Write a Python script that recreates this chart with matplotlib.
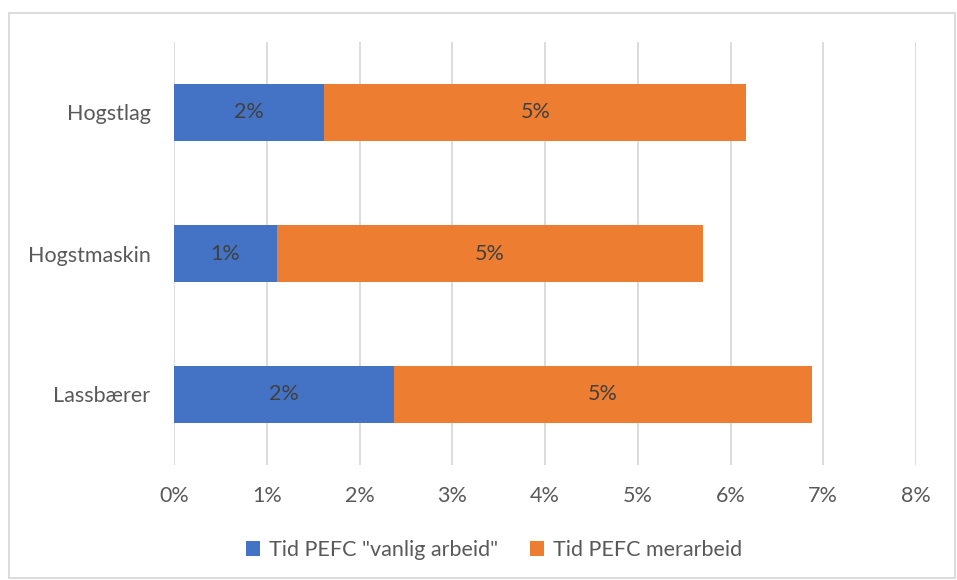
import matplotlib
matplotlib.use("Agg")
import matplotlib.pyplot as plt
from matplotlib.patches import Rectangle
from matplotlib.ticker import FuncFormatter

categories = ["Lassbærer", "Hogstmaskin", "Hogstlag"]
vanlig = [2.37, 1.11, 1.62]       # Tid PEFC "vanlig arbeid", %
merarbeid = [4.51, 4.59, 4.55]    # Tid PEFC merarbeid, %
series_names = ['Tid PEFC "vanlig arbeid"', "Tid PEFC merarbeid"]
colors = ["#4472C4", "#ED7D31"]

plt.rcParams["font.family"] = ["Lato", "DejaVu Sans"]
FS = 15.5

W, H = 957, 580
fig = plt.figure(figsize=(W / 100, H / 100), dpi=100)
ax = fig.add_axes([174 / W, 1 - 465 / H, (916 - 174) / W, (465 - 42) / H])

y = range(len(categories))
b1 = ax.barh(y, vanlig, height=0.4, color=colors[0], label=series_names[0], zorder=3)
b2 = ax.barh(y, merarbeid, left=vanlig, height=0.4, color=colors[1], label=series_names[1], zorder=3)

for bars, vals in ((b1, vanlig), (b2, merarbeid)):
    for bar, v in zip(bars, vals):
        ax.text(bar.get_x() + bar.get_width() / 2, bar.get_y() + bar.get_height() / 2,
                f"{v:.0f}%", ha="center", va="center", fontsize=FS, color="#404040", zorder=4)

ax.set_xlim(0, 8)
ax.set_ylim(-0.5, 2.5)
ax.set_xticks(range(0, 9))
ax.xaxis.set_major_formatter(FuncFormatter(lambda v, p: f"{v:.0f}%"))
ax.set_yticks(list(y))
ax.set_yticklabels(categories)
ax.grid(axis="x", color="#D9D9D9", linewidth=1.3, zorder=0)
for s in ax.spines.values():
    s.set_visible(False)
ax.tick_params(axis="both", length=0, labelsize=FS, colors="#595959")
ax.tick_params(axis="x", pad=15)
ax.tick_params(axis="y", pad=17)

leg = fig.legend(handles=[b1, b2], labels=series_names, loc="center", ncol=2,
                 bbox_to_anchor=(494 / W, 1 - 550 / H), frameon=False,
                 fontsize=FS, handlelength=0.65, handleheight=0.65,
                 handletextpad=0.4, columnspacing=1.5)
for t in leg.get_texts():
    t.set_color("#595959")

fig.patches.append(Rectangle((9 / W, 1 - 578 / H), (955 - 9) / W, (578 - 13) / H,
                             transform=fig.transFigure, fill=False,
                             edgecolor="#D9D9D9", linewidth=1.3))

fig.savefig("out.png", dpi=100)
